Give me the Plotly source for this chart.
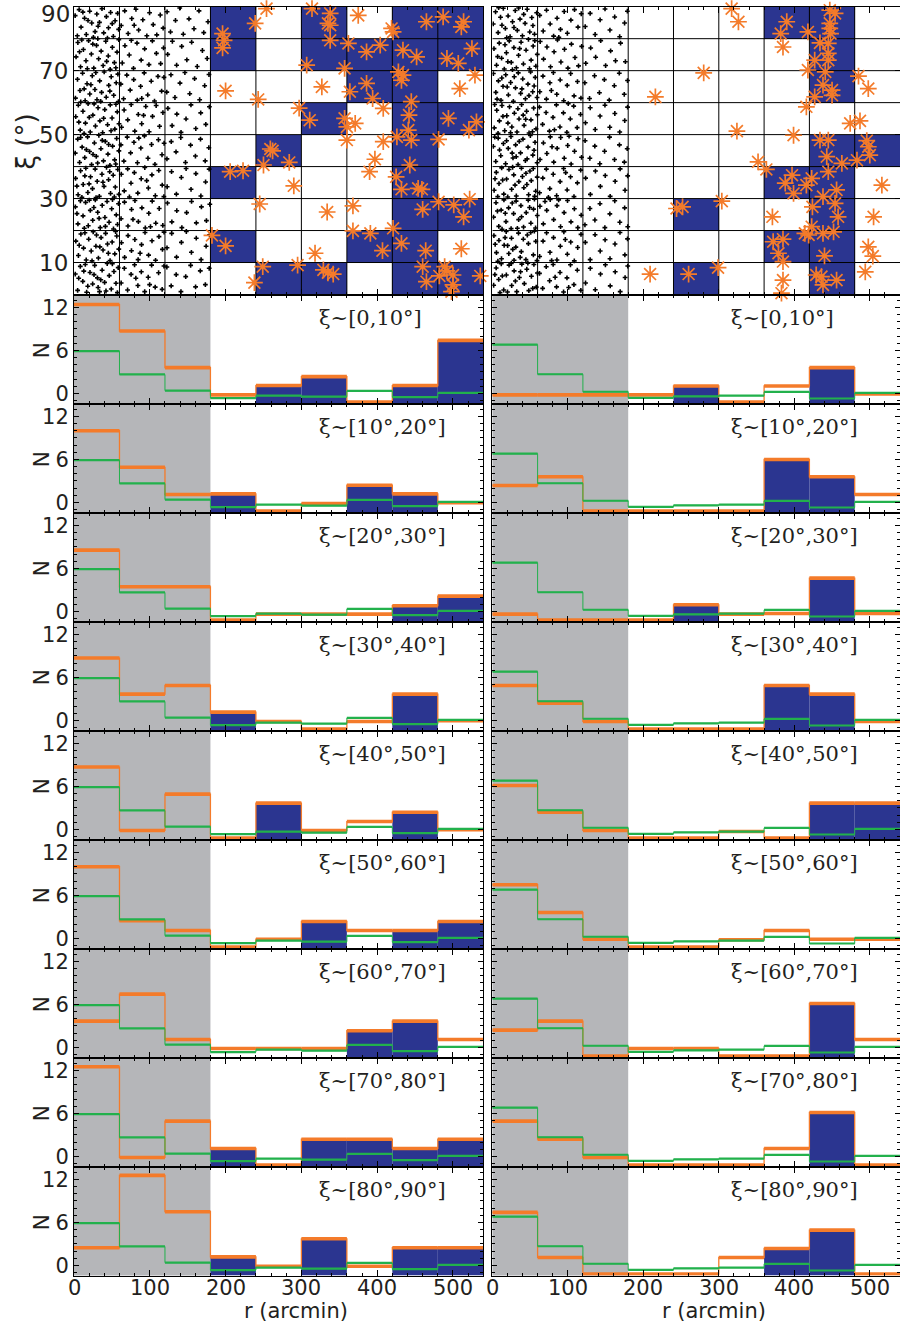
import plotly.graph_objects as go

# ---------------- data ----------------
r_edges = [0, 60, 120, 180, 240, 300, 360, 420, 480, 540]
xi_edges = [0, 10, 20, 30, 40, 50, 60, 70, 80, 90]
grey_limit = 180
panel_labels = ["ξ~[0,10°]", "ξ~[10°,20°]", "ξ~[20°,30°]", "ξ~[30°,40°]", "ξ~[40°,50°]",
                "ξ~[50°,60°]", "ξ~[60°,70°]", "ξ~[70°,80°]", "ξ~[80°,90°]"]
xi_tick_vals = [10, 30, 50, 70, 90]
r_tick_vals = [0, 100, 200, 300, 400, 500]

# histogram values per xi band (rows: 0-10 ... 80-90), per r bin
orange_left = [
    [12.4, 8.7, 3.6, -0.2, 1.1, 2.35, -1.2, 1.1, 7.4],
    [10.0, 4.9, 1.1, 1.2, -1.2, -0.15, 2.4, 1.2, -0.05],
    [8.56, 3.44, 3.44, -1.2, -0.37, -0.37, -0.37, 0.8, 2.14],
    [8.7, 3.67, 4.88, 1.16, -0.14, -1.2, -0.14, 3.67, -0.05],
    [8.7, -0.14, 4.93, -1.2, 3.67, -0.14, 1.1, 2.4, -0.05],
    [10.0, 2.47, 1.12, -1.2, -0.1, 2.37, 1.12, 1.12, 2.37],
    [3.67, 7.44, 1.12, -0.14, -0.14, -0.14, 2.33, 3.67, 1.12],
    [12.5, -0.14, 4.93, 1.12, -1.2, 2.4, 2.4, 1.12, 2.4],
    [2.47, 12.56, 7.5, 1.2, -0.1, 3.72, -0.1, 2.47, 2.47],
]
orange_right = [
    [-0.2, -0.2, -0.2, -0.2, 1.05, -1.2, 1.05, 3.6, -0.07],
    [2.37, 3.58, -1.2, -1.2, -1.2, -1.2, 6.0, 3.58, 1.12],
    [-0.37, -1.2, -1.2, -1.2, 0.93, -0.37, -0.28, 4.65, -0.28],
    [4.88, 2.42, -0.14, -1.2, -1.2, -1.2, 4.88, 3.67, -0.14],
    [6.14, 2.42, -0.14, -1.2, -1.2, -0.28, -1.2, 3.67, 3.67],
    [7.49, 3.63, -0.1, -1.2, -1.2, -0.19, 1.12, -0.1, -0.1],
    [2.42, 3.67, -1.2, -0.14, -0.14, -1.2, -1.2, 6.14, 1.12],
    [4.93, 2.42, -0.14, -1.2, -1.2, -1.2, 1.12, 6.14, -1.2],
    [7.4, 1.12, -1.2, -1.2, -1.2, 1.12, 2.37, 4.93, -1.2],
]
green_left = [5.9, 2.65, 0.4, -0.65, -0.3, -0.45, 0.35, -0.52, 0.07]
green_right = [6.8, 2.68, 0.24, -0.61, -0.4, -0.3, 0.22, -0.7, 0.07]
# indices of r bins flagged (blue) per xi band
blue_left = [[4, 5, 7, 8], [3, 6, 7], [7, 8], [3, 7], [4, 7], [5, 7, 8], [6, 7], [3, 5, 6, 7, 8], [3, 5, 7, 8]]
blue_right = [[4, 7], [6, 7], [4, 7], [6, 7], [7, 8], [], [7], [7], [6, 7]]

stars_left = [
    (196, 81.6), (198, 79.5), (196, 77.1), (239, 84.8), (254, 89.4), (200, 63.7), (243, 61.0), (297, 58.3),
    (259, 45.5), (262, 44.9), (250, 40.5), (284, 41.3), (290, 34.0), (206, 38.4), (223, 38.7), (245, 28.3),
    (182, 18.5), (200, 15.2), (249, 8.7), (295, 9.2), (238, 3.7), (314, 89.4), (338, 87.9), (335, 84.8),
    (338, 84.2), (375, 87.3), (419, 83.2), (421, 82.1), (465, 85.3), (487, 86.8), (514, 85.3), (511, 83.7),
    (338, 79.5), (362, 78.5), (386, 75.9), (404, 78.0), (434, 76.4), (452, 74.3), (492, 73.8), (507, 72.3),
    (525, 76.9), (307, 71.7), (357, 70.7), (428, 69.6), (434, 68.6), (432, 67.0), (386, 66.0), (364, 63.4),
    (394, 61.3), (327, 64.9), (529, 68.6), (509, 64.4), (445, 60.3), (311, 54.5), (357, 55.1), (360, 52.4),
    (371, 53.5), (408, 58.2), (442, 56.1), (441, 51.4), (445, 48.3), (494, 55.1), (531, 54.0), (521, 51.4),
    (426, 49.3), (360, 48.3), (408, 47.8), (481, 48.5), (397, 42.3), (443, 40.5), (390, 38.4), (425, 36.8),
    (432, 32.9), (454, 33.2), (459, 32.9), (334, 25.8), (368, 27.7), (460, 26.6), (481, 29.0), (501, 28.0),
    (522, 29.8), (514, 24.3), (318, 12.9), (368, 19.9), (391, 19.1), (421, 20.7), (407, 13.7), (432, 16.0),
    (464, 13.7), (511, 14.3), (329, 7.7), (335, 6.8), (342, 6.4), (460, 8.7), (465, 4.0), (482, 5.8),
    (489, 8.7), (492, 7.4), (500, 6.1), (500, 3.0), (498, 0.9), (536, 5.8),
]
stars_right = [
    (317, 89.4), (326, 85.3), (390, 85.3), (382, 81.6), (418, 82.1), (447, 88.9), (454, 87.9), (447, 84.8),
    (447, 83.2), (448, 81.6), (434, 78.7), (445, 78.5), (385, 77.4), (445, 75.4), (445, 73.3), (427, 73.3),
    (418, 70.2), (441, 69.6), (280, 69.3), (438, 65.5), (450, 63.9), (450, 62.3), (427, 61.8), (485, 68.3),
    (498, 64.4), (216, 61.8), (416, 58.7), (474, 53.5), (487, 54.3), (324, 51.1), (399, 49.8), (434, 48.3),
    (445, 48.3), (496, 48.1), (498, 46.2), (500, 43.6), (443, 43.1), (463, 41.0), (483, 42.0), (352, 41.5),
    (363, 39.1), (397, 37.3), (388, 34.8), (399, 31.6), (416, 34.2), (423, 36.3), (445, 38.4), (456, 32.7),
    (438, 30.6), (454, 28.5), (516, 34.2), (424, 27.4), (458, 24.3), (244, 26.9), (252, 27.4), (304, 29.2),
    (371, 24.3), (505, 24.3), (423, 21.2), (414, 19.1), (419, 18.6), (438, 19.1), (452, 19.6), (372, 16.5),
    (385, 17.3), (379, 12.9), (385, 10.3), (440, 12.1), (498, 14.9), (504, 12.0), (209, 6.4), (260, 6.4),
    (299, 8.4), (385, 4.5), (383, 0.4), (429, 6.1), (436, 5.6), (438, 3.0), (456, 4.5), (494, 7.1),
]

dots_left = [
    # 80-90
    (1.5, 87.2), (6.8, 89.1), (9.3, 83.6), (13.9, 86.4), (16.2, 81.3), (20.7, 88.6), (23.4, 84.9), (27.8, 82.2),
    (30.1, 87.7), (33.6, 85.1), (36.9, 89.4), (39.2, 81.8), (42.7, 86.9), (45.5, 83.4), (48.3, 88.2), (51.9, 80.7),
    (54.2, 85.6), (57.6, 87.9), (58.9, 82.9), (4.4, 80.9), (11.7, 88.3), (25.6, 80.4), (31.8, 83.9), (44.1, 80.2),
    (50.4, 84.7), (18.5, 85.7),
    (62.3, 84.1), (66.9, 88.7), (71.4, 81.6), (76.2, 86.3), (81.7, 89.2), (85.3, 82.7), (90.8, 85.9), (96.1, 80.9),
    (99.7, 88.1), (104.5, 84.4), (109.2, 81.2), (113.8, 87.4), (117.6, 83.3), (79.4, 84.2),
    (122.8, 88.4), (127.3, 82.1), (133.9, 85.7), (139.5, 89.6), (144.2, 81.4), (151.7, 86.2), (158.3, 83.1),
    (164.9, 88.7), (171.2, 81.9), (176.8, 85.3),
    # 70-80
    (2.7, 74.3), (5.1, 78.8), (8.6, 71.2), (12.4, 76.6), (15.8, 73.1), (19.3, 79.4), (22.9, 75.2), (26.1, 70.8),
    (29.7, 77.9), (32.5, 73.7), (35.8, 76.1), (38.4, 71.6), (41.9, 79.2), (45.2, 74.6), (47.7, 70.4), (50.6, 77.3),
    (53.3, 72.5), (56.8, 75.8), (59.1, 79.7), (10.2, 79.6), (17.6, 70.6), (24.8, 78.3), (43.1, 72.9), (55.2, 70.9),
    (31.4, 80.0), (7.3, 75.9),
    (63.7, 72.4), (67.2, 77.8), (72.9, 74.9), (78.5, 70.7), (83.1, 78.6), (88.6, 73.3), (93.2, 76.8), (98.9, 71.9),
    (103.4, 79.3), (108.7, 75.4), (114.3, 72.2), (118.1, 77.1), (75.6, 79.5),
    (123.6, 75.1), (129.8, 79.2), (135.4, 71.7), (142.1, 77.6), (148.9, 73.4), (155.2, 78.9), (162.6, 71.3),
    (169.4, 76.3), (175.7, 73.8),
    # 60-70
    (1.9, 61.4), (4.6, 67.3), (7.9, 63.8), (11.3, 69.2), (14.7, 60.6), (17.2, 65.9), (20.8, 62.7), (24.1, 68.4),
    (27.6, 64.1), (30.3, 60.9), (33.9, 66.8), (36.4, 63.2), (39.8, 69.6), (42.5, 61.7), (45.9, 65.4), (49.1, 68.1),
    (52.4, 62.3), (55.7, 66.2), (58.6, 60.3), (8.9, 60.2), (22.3, 65.6), (35.2, 60.4), (47.3, 63.6), (57.9, 68.9),
    (13.4, 64.3), (28.8, 69.4),
    (61.8, 65.8), (65.4, 61.2), (69.7, 68.6), (74.1, 63.9), (78.8, 67.2), (83.5, 60.8), (87.9, 65.1), (92.6, 69.3),
    (97.3, 62.4), (101.9, 66.7), (106.2, 60.5), (110.8, 68.2), (115.6, 63.6), (118.7, 67.9), (89.4, 61.3),
    (122.4, 63.3), (127.9, 68.7), (133.2, 61.6), (139.8, 66.1), (146.3, 69.4), (152.7, 62.8), (159.1, 67.5),
    (165.8, 60.9), (172.4, 65.3), (178.1, 68.8),
    # 50-60
    (2.3, 55.6), (5.7, 59.2), (8.2, 51.4), (11.8, 57.3), (15.1, 53.6), (18.6, 59.7), (21.4, 50.8), (24.9, 56.1),
    (28.3, 52.7), (31.7, 58.4), (34.2, 54.3), (37.8, 50.6), (40.6, 57.8), (44.3, 53.1), (47.8, 59.3), (50.2, 55.2),
    (53.9, 51.7), (57.1, 57.1), (59.4, 53.4), (6.4, 53.9), (13.3, 50.3), (26.5, 59.6), (39.1, 55.1), (48.9, 51.2),
    (55.3, 59.5), (20.1, 55.4),
    (62.7, 52.3), (66.1, 57.7), (70.9, 54.6), (75.4, 59.4), (80.2, 51.1), (84.8, 56.3), (89.3, 53.4), (94.7, 58.8),
    (99.1, 50.9), (103.6, 55.7), (108.4, 59.1), (112.9, 52.6), (117.3, 56.9), (91.8, 56.0),
    (123.9, 58.2), (129.4, 52.8), (135.7, 56.4), (141.2, 50.7), (147.8, 54.9), (154.3, 59.3), (160.7, 51.9),
    (167.2, 56.8), (173.9, 53.2), (178.6, 58.7),
    # 40-50
    (1.6, 44.2), (4.9, 48.6), (7.4, 41.3), (10.7, 46.1), (14.2, 42.8), (17.9, 49.3), (20.6, 44.7), (23.2, 40.6),
    (26.9, 47.4), (29.4, 43.2), (32.8, 49.8), (35.5, 45.6), (38.9, 41.8), (41.3, 47.9), (44.8, 43.9), (47.4, 40.4),
    (50.9, 46.4), (53.6, 42.1), (56.3, 48.8), (59.2, 44.9), (8.8, 49.1), (16.3, 45.3), (25.1, 43.8), (37.3, 48.2),
    (45.7, 46.9), (55.1, 40.8), (31.2, 41.1),
    (61.9, 46.8), (65.8, 41.7), (70.2, 49.2), (74.7, 44.3), (79.1, 47.6), (83.7, 41.2), (88.2, 45.8), (92.9, 49.6),
    (97.6, 42.6), (102.3, 46.9), (106.8, 40.7), (111.4, 48.4), (116.1, 43.7), (118.9, 47.3), (85.5, 48.9),
    (122.6, 42.4), (128.3, 47.8), (134.6, 44.6), (140.9, 49.1), (147.1, 41.3), (153.8, 46.7), (160.2, 43.3),
    (166.9, 48.6), (173.1, 41.8), (177.9, 45.9),
    # 30-40
    (2.1, 36.3), (5.4, 31.2), (8.7, 38.7), (12.1, 34.4), (15.6, 39.5), (18.3, 31.9), (21.8, 36.8), (24.4, 33.1),
    (27.9, 39.2), (30.6, 35.4), (33.4, 30.7), (36.9, 37.6), (39.6, 33.8), (42.9, 39.8), (45.6, 35.9), (48.2, 31.6),
    (51.7, 37.3), (54.5, 33.6), (57.8, 39.1), (59.3, 31.3), (3.8, 33.9), (10.4, 30.4), (19.9, 34.6), (29.1, 30.3),
    (38.2, 35.1), (47.1, 38.4), (53.2, 30.5), (14.3, 37.1),
    (62.4, 37.6), (66.3, 32.4), (70.8, 39.3), (75.2, 34.8), (79.6, 38.1), (84.2, 31.7), (88.7, 36.2), (93.4, 39.7),
    (98.1, 33.3), (102.8, 37.4), (107.3, 30.9), (111.9, 38.8), (116.4, 34.2), (118.6, 30.6), (73.1, 30.5), (95.9, 35.6),
    (122.9, 33.7), (128.7, 38.4), (135.1, 31.4), (141.6, 36.6), (147.9, 39.4), (154.4, 32.9), (160.8, 37.8),
    (167.4, 30.8), (173.6, 35.2), (178.3, 39.2),
    # 20-30
    (1.8, 27.4), (5.2, 22.1), (8.4, 29.3), (11.9, 24.6), (15.3, 28.8), (18.8, 21.5), (21.5, 26.3), (24.7, 23.2),
    (28.1, 29.6), (31.3, 25.7), (34.6, 20.9), (37.2, 27.9), (40.8, 24.1), (43.6, 29.1), (46.3, 22.6), (49.7, 26.8),
    (52.1, 20.5), (55.8, 24.9), (58.7, 28.4), (3.9, 25.3), (13.6, 20.7), (26.2, 27.2), (33.1, 23.8), (41.4, 21.3),
    (50.8, 29.7), (57.4, 21.9), (20.2, 29.5),
    (62.1, 23.7), (66.6, 28.9), (71.2, 21.4), (75.9, 26.6), (80.4, 29.4), (84.9, 22.8), (89.6, 27.1), (94.1, 20.8),
    (98.7, 25.4), (103.2, 29.2), (107.9, 22.3), (112.4, 26.9), (117.2, 21.6), (77.8, 23.5), (100.9, 21.2),
    (123.3, 28.6), (129.1, 22.7), (135.6, 26.2), (142.3, 20.9), (148.6, 25.6), (155.1, 29.1), (161.4, 22.4),
    (168.1, 27.4), (174.7, 23.1), (179.2, 28.2),
    # 10-20
    (2.4, 16.7), (5.8, 12.2), (9.1, 18.9), (12.6, 14.5), (16.1, 10.8), (19.4, 17.3), (22.7, 13.6), (25.3, 19.6),
    (28.9, 15.1), (32.2, 11.4), (35.7, 17.8), (38.3, 13.9), (41.7, 19.1), (44.2, 15.8), (47.6, 10.6), (50.3, 16.4),
    (53.8, 12.7), (56.4, 18.3), (59.1, 14.2), (6.9, 15.4), (14.4, 19.3), (23.8, 10.5), (34.1, 14.9), (45.3, 12.9),
    (54.9, 19.7), (29.7, 18.6),
    (62.6, 16.2), (66.8, 11.6), (71.3, 18.4), (75.8, 13.7), (80.3, 17.2), (84.6, 10.9), (89.1, 15.6), (93.7, 19.4),
    (98.4, 12.3), (102.9, 16.8), (107.6, 10.7), (112.1, 18.1), (116.7, 14.1), (118.8, 19.5), (87.2, 12.9),
    (122.7, 14.6), (128.9, 19.1), (135.3, 11.7), (141.7, 16.3), (148.2, 19.7), (154.9, 13.2), (161.3, 17.6),
    (167.7, 10.9), (174.3, 15.1), (178.8, 18.7),
    # 0-10
    (1.7, 6.4), (4.8, 1.3), (8.3, 8.8), (11.6, 4.1), (14.9, 9.4), (18.2, 2.6), (21.1, 6.9), (24.6, 3.3),
    (27.3, 9.1), (30.9, 5.2), (33.7, 0.9), (37.1, 7.6), (40.4, 3.8), (43.8, 9.7), (46.5, 5.9), (49.2, 1.7),
    (52.7, 7.2), (55.4, 3.5), (58.3, 8.4), (6.2, 5.1), (16.7, 0.7), (26.4, 6.2), (35.3, 4.6), (42.2, 1.1),
    (50.6, 9.6), (57.2, 0.6), (12.9, 7.3), (31.8, 2.2),
    (62.2, 3.6), (66.4, 8.2), (70.7, 1.4), (75.3, 6.3), (79.9, 9.3), (84.3, 2.8), (88.8, 7.1), (93.3, 0.9),
    (97.9, 5.4), (102.4, 9.2), (107.1, 2.3), (111.6, 6.8), (116.3, 1.6), (118.7, 8.9), (81.6, 5.1), (99.8, 3.1),
    (122.5, 8.6), (128.2, 2.7), (134.8, 6.2), (141.1, 0.9), (147.4, 5.6), (153.9, 9.1), (160.4, 2.4),
    (166.6, 7.4), (173.3, 3.1), (178.4, 8.2),
]

dots_right = [
    # 80-90
    (1.2, 84.6), (4.3, 88.4), (7.7, 81.9), (10.9, 86.7), (14.6, 89.5), (17.3, 83.2), (20.9, 87.1), (23.6, 80.6),
    (26.8, 85.3), (30.4, 88.8), (33.1, 82.6), (36.7, 86.1), (39.9, 80.9), (43.4, 84.8), (46.2, 89.2), (49.6, 82.1),
    (52.3, 86.6), (55.9, 81.4), (58.8, 88.1), (8.4, 89.7), (19.1, 80.3), (28.7, 83.5), (41.6, 87.6), (53.8, 84.1),
    (12.8, 84.2), (34.9, 89.6),
    (62.8, 87.3), (67.4, 82.4), (71.8, 88.9), (76.6, 84.6), (81.2, 80.8), (85.8, 86.4), (90.3, 82.9), (95.2, 88.5),
    (99.4, 81.7), (104.1, 85.8), (108.9, 89.1), (113.5, 83.6), (117.8, 87.8), (88.1, 80.4),
    (123.1, 83.8), (129.6, 87.9), (136.2, 81.3), (142.8, 85.9), (149.3, 89.3), (155.8, 82.7), (162.1, 86.8),
    (168.7, 80.6), (175.2, 84.9), (178.9, 88.6),
    # 70-80
    (2.2, 76.9), (5.6, 71.7), (9.2, 78.6), (12.3, 73.9), (15.9, 70.5), (18.7, 75.6), (22.4, 79.3), (25.1, 72.6),
    (28.6, 77.2), (31.9, 70.9), (34.8, 74.8), (38.1, 78.9), (41.2, 72.1), (44.7, 76.4), (47.9, 79.8), (51.4, 73.3),
    (54.1, 77.7), (57.7, 71.4), (59.6, 75.1), (7.1, 74.4), (16.8, 78.1), (26.7, 70.3), (36.2, 76.9), (49.3, 70.6),
    (56.3, 79.4), (20.6, 72.8),
    (63.4, 79.1), (67.9, 73.6), (72.4, 77.4), (77.1, 71.2), (81.8, 75.9), (86.3, 79.6), (90.9, 72.7), (95.6, 76.7),
    (100.2, 70.8), (104.8, 78.3), (109.5, 74.1), (114.2, 71.5), (118.4, 77.6),
    (123.8, 72.3), (130.3, 77.1), (136.9, 74.2), (143.6, 79.4), (150.1, 71.6), (156.7, 76.2), (163.2, 73.1),
    (169.9, 78.6), (176.3, 72.8),
    # 60-70
    (1.4, 69.1), (4.7, 63.2), (8.1, 66.8), (11.5, 60.7), (14.2, 65.1), (17.8, 68.7), (21.3, 62.4), (24.3, 66.3),
    (27.9, 60.4), (30.7, 64.6), (34.4, 69.3), (37.6, 62.9), (40.3, 67.4), (43.9, 61.2), (47.2, 65.8), (50.7, 69.6),
    (53.5, 63.4), (56.9, 67.9), (59.3, 61.6), (6.3, 61.1), (19.7, 64.9), (29.1, 68.1), (39.2, 64.3), (48.6, 62.2),
    (12.6, 67.7), (55.4, 65.2),
    (62.9, 63.4), (67.1, 68.3), (71.7, 61.1), (76.3, 66.2), (80.9, 69.4), (85.4, 62.6), (89.9, 67.1), (94.6, 60.6),
    (99.2, 65.4), (103.8, 69.1), (108.3, 62.1), (112.8, 66.6), (117.4, 61.4), (78.2, 63.8),
    (122.6, 66.2), (128.8, 61.3), (135.4, 68.4), (141.9, 63.1), (148.4, 67.2), (154.9, 60.8), (161.6, 65.3),
    (168.2, 69.2), (174.8, 62.6), (179.1, 66.9),
    # 50-60
    (2.6, 52.1), (5.9, 57.6), (9.4, 54.3), (12.8, 59.1), (16.4, 51.2), (19.2, 55.9), (22.8, 58.7), (25.9, 52.4),
    (29.2, 56.7), (32.7, 50.8), (35.4, 54.9), (38.8, 59.4), (42.1, 52.9), (45.4, 57.3), (48.7, 50.5), (51.2, 54.6),
    (54.8, 58.3), (57.9, 51.8), (59.7, 56.2), (7.6, 50.4), (14.1, 55.7), (24.2, 50.6), (33.9, 58.1), (44.2, 54.8),
    (53.2, 50.9), (20.7, 53.6), (40.9, 56.1), (3.1, 59.4),
    (62.4, 58.6), (66.6, 53.2), (71.2, 56.9), (75.7, 51.1), (80.4, 55.4), (84.9, 59.3), (89.6, 52.4), (94.2, 56.8),
    (98.8, 50.7), (103.3, 54.9), (107.8, 58.9), (112.4, 52.2), (116.9, 56.3), (82.3, 51.5), (100.6, 59.7),
    (123.4, 53.7), (129.7, 58.4), (136.3, 51.6), (142.7, 55.8), (149.2, 59.2), (155.6, 52.3), (162.3, 56.6),
    (168.8, 50.8), (175.4, 54.4), (179.2, 58.6),
    # 40-50
    (1.3, 46.3), (4.6, 41.6), (7.8, 48.9), (11.2, 43.4), (14.7, 47.2), (17.6, 40.9), (21.1, 45.7), (24.7, 49.4),
    (27.4, 42.7), (30.9, 46.8), (34.1, 40.6), (37.4, 44.3), (40.6, 48.6), (43.8, 41.9), (47.3, 46.1), (50.4, 49.7),
    (53.7, 43.6), (56.6, 47.6), (59.4, 41.2), (9.6, 45.2), (18.9, 48.1), (26.3, 44.2), (35.7, 47.9), (46.1, 42.4),
    (55.3, 45.1), (3.2, 49.2), (31.6, 43.1),
    (63.2, 42.2), (67.7, 47.4), (72.3, 44.1), (76.8, 49.3), (81.4, 41.4), (85.9, 45.7), (90.6, 49.1), (95.3, 42.6),
    (99.9, 46.6), (104.4, 40.8), (108.9, 44.8), (113.6, 48.7), (118.2, 42.9), (79.1, 46.2), (101.7, 49.5),
    (122.9, 48.1), (129.2, 42.6), (135.8, 46.4), (142.4, 40.9), (148.7, 44.8), (155.3, 49.2), (161.9, 42.2),
    (168.4, 46.8), (174.9, 41.4), (178.7, 45.6),
    # 30-40
    (2.4, 32.6), (5.3, 38.2), (8.9, 34.7), (12.4, 39.6), (15.2, 31.4), (18.9, 36.1), (22.1, 39.1), (25.6, 32.9),
    (28.4, 37.4), (31.8, 30.8), (35.2, 35.3), (38.6, 39.5), (41.8, 33.4), (44.6, 37.9), (48.1, 31.2), (51.6, 35.6),
    (54.2, 39.4), (57.5, 32.3), (59.5, 36.7), (7.2, 30.6), (13.7, 35.8), (20.4, 30.5), (30.1, 34.2), (39.9, 36.9),
    (49.9, 38.6), (56.1, 30.7), (26.9, 39.8), (45.8, 34.4), (3.6, 36.2),
    (62.6, 31.8), (66.9, 36.4), (71.6, 39.2), (76.2, 33.1), (80.7, 37.6), (85.2, 30.9), (89.8, 35.3), (94.5, 39.4),
    (99.1, 32.7), (103.6, 36.8), (108.2, 30.6), (112.7, 34.9), (117.1, 38.9), (74.3, 30.4), (97.2, 38.1),
    (123.6, 36.4), (129.9, 31.3), (136.6, 38.6), (143.1, 33.8), (149.6, 37.2), (156.1, 30.7), (162.7, 35.4),
    (169.3, 39.3), (175.8, 32.6), (179.3, 37.1),
    # 20-30
    (1.6, 24.2), (4.9, 28.7), (8.6, 21.3), (11.7, 26.4), (15.4, 29.6), (18.1, 22.8), (21.6, 27.1), (24.9, 20.6),
    (28.2, 25.3), (31.5, 29.2), (34.9, 23.4), (37.9, 27.8), (41.4, 21.1), (44.9, 25.6), (47.6, 29.5), (51.1, 22.3),
    (54.6, 26.7), (57.3, 20.8), (59.6, 24.7), (6.8, 26.1), (17.2, 25.4), (26.4, 28.6), (38.7, 24.3), (49.4, 27.2),
    (55.8, 29.8), (12.9, 20.4), (33.2, 20.7),
    (63.1, 27.6), (67.6, 22.1), (72.1, 26.3), (76.7, 29.7), (81.3, 23.4), (85.7, 27.8), (90.4, 21.2), (95.1, 25.6),
    (99.6, 29.4), (104.2, 22.7), (108.7, 26.8), (113.3, 20.9), (117.7, 24.8), (87.9, 29.6), (69.8, 29.1),
    (122.7, 21.8), (129.3, 26.9), (135.9, 23.3), (142.6, 28.4), (149.1, 20.9), (155.7, 25.2), (162.2, 29.3),
    (168.9, 22.6), (175.3, 27.1), (179.4, 21.2),
    # 10-20
    (2.1, 18.4), (5.5, 13.1), (8.8, 16.9), (12.2, 11.2), (15.7, 15.4), (18.4, 19.7), (21.9, 12.8), (25.4, 17.6),
    (28.8, 10.7), (31.2, 14.8), (34.7, 19.2), (38.4, 13.4), (41.1, 17.3), (44.5, 10.9), (47.8, 15.9), (50.9, 19.4),
    (54.4, 12.4), (57.6, 16.6), (59.2, 10.6), (7.4, 10.4), (16.9, 17.8), (27.1, 14.1), (36.9, 11.6), (46.4, 18.6),
    (55.7, 19.8), (20.3, 15.3), (3.8, 15.7),
    (62.7, 11.9), (67.2, 16.7), (71.9, 19.3), (76.4, 13.2), (81.1, 17.8), (85.6, 10.8), (90.1, 15.1), (94.8, 19.6),
    (99.4, 12.6), (103.9, 16.4), (108.6, 10.5), (113.1, 14.7), (117.5, 18.8), (78.6, 10.6), (96.7, 17.2),
    (123.2, 16.3), (129.6, 10.9), (136.1, 18.7), (142.9, 13.6), (149.4, 17.1), (155.9, 11.2), (162.5, 15.8),
    (169.1, 19.4), (175.6, 12.4), (179.1, 17.4),
    # 0-10
    (1.8, 2.9), (5.1, 8.3), (8.5, 4.7), (11.9, 9.6), (15.1, 1.4), (18.6, 6.1), (22.2, 9.2), (25.7, 2.8),
    (28.9, 7.4), (32.4, 0.9), (35.9, 5.3), (39.1, 9.5), (42.4, 3.4), (45.7, 7.9), (48.4, 1.2), (51.8, 5.7),
    (55.1, 9.4), (58.2, 2.3), (59.7, 6.7), (3.4, 6.2), (13.3, 5.8), (20.1, 0.8), (30.6, 4.2), (37.4, 7.1),
    (47.1, 9.8), (53.6, 1.9), (25.2, 9.7), (10.2, 0.6),
    (62.5, 6.6), (66.7, 1.9), (71.4, 8.7), (75.9, 4.3), (80.6, 9.4), (85.1, 2.4), (89.7, 6.9), (94.4, 0.8),
    (98.9, 5.2), (103.5, 9.3), (108.1, 3.1), (112.6, 7.6), (117.3, 1.3), (83.2, 5.4), (101.2, 2.2),
    (123.5, 3.6), (129.8, 8.2), (136.4, 1.5), (143.3, 6.4), (149.8, 9.3), (156.2, 2.7), (162.8, 7.1),
    (169.4, 0.9), (175.9, 5.3), (179.4, 8.9),
]

# ---------------- style / layout ----------------
W, H = 900, 1325
BLUE = '#2B3590'
ORANGE = '#F47B2A'
GREEN = '#22B14C'
GREY = '#B5B6B9'
TXT = '#231F20'
col_px = {'L': (74.0, 483.3), 'R': (492.3, 900.0)}
top_px = (6.7, 294.5)
hist_top, hist_h = 294.5, 109.0
N_RANGE = [-1.4, 13.8]
R_RANGE = [r_edges[0], r_edges[-1]]
XI_RANGE = [xi_edges[0], xi_edges[-1]]

def xd(side):
    a, b = col_px[side]
    return [a / W, b / W]

def yd(top, bot):
    return [1 - bot / H, 1 - top / H]

def aid(n):
    return ('x' if n == 1 else f'x{n}'), ('y' if n == 1 else f'y{n}')

def lkey(n, ax):
    return f'{ax}axis' if n == 1 else f'{ax}axis{n}'

fig = go.Figure()
layout = dict(width=W, height=H, margin=dict(l=0, r=0, t=0, b=0, autoexpand=False),
              paper_bgcolor='white', plot_bgcolor='white', showlegend=False,
              barmode='overlay', font=dict(family='DejaVu Sans', color=TXT))
annotations = []
shapes = []

r_centers = [(r_edges[j] + r_edges[j + 1]) / 2 for j in range(len(r_edges) - 1)]
xi_centers = [(xi_edges[k] + xi_edges[k + 1]) / 2 for k in range(len(xi_edges) - 1)]

sides = [('L', 1, 3, orange_left, green_left, blue_left, stars_left, dots_left),
         ('R', 2, 12, orange_right, green_right, blue_right, stars_right, dots_right)]

for side, sc_id, h0, orange, green, blue, stars, dots in sides:
    xa, ya = aid(sc_id)
    # --- top scatter panel ---
    z = [[1 if j in blue[k] else None for j in range(len(r_centers))] for k in range(len(xi_centers))]
    fig.add_trace(go.Heatmap(x=r_centers, y=xi_centers, z=z, zmin=0, zmax=1,
                             colorscale=[[0, BLUE], [1, BLUE]], showscale=False,
                             hoverinfo='skip', xaxis=xa, yaxis=ya))
    gx, gy = [], []
    for e in r_edges[1:-1]:
        gx += [e, e, None]
        gy += [XI_RANGE[0], XI_RANGE[1], None]
    for e in xi_edges[1:-1]:
        gx += [R_RANGE[0], R_RANGE[1], None]
        gy += [e, e, None]
    fig.add_trace(go.Scatter(x=gx, y=gy, mode='lines', line=dict(color='black', width=1),
                             hoverinfo='skip', xaxis=xa, yaxis=ya))
    fig.add_trace(go.Scatter(x=[d[0] for d in dots], y=[d[1] for d in dots], mode='markers',
                             marker=dict(symbol='cross', size=4, color='black'),
                             xaxis=xa, yaxis=ya))
    fig.add_trace(go.Scatter(x=[s[0] for s in stars], y=[s[1] for s in stars], mode='markers',
                             marker=dict(symbol='asterisk-open', size=14, color=ORANGE,
                                         line=dict(color=ORANGE, width=1.7)),
                             cliponaxis=False, xaxis=xa, yaxis=ya))
    layout[lkey(sc_id, 'x')] = dict(domain=xd(side), anchor=ya, range=R_RANGE, showgrid=False,
                                   zeroline=False, showline=True, linecolor='black', linewidth=1,
                                   mirror='allticks', ticks='inside', ticklen=6, tickcolor='black',
                                   tick0=0, dtick=100, showticklabels=False, automargin=False,
                                   minor=dict(ticks='inside', ticklen=3, dtick=20, tickcolor='black'))
    layout[lkey(sc_id, 'y')] = dict(domain=yd(*top_px), anchor=xa, range=XI_RANGE, showgrid=False,
                                   zeroline=False, showline=True, linecolor='black', linewidth=1,
                                   mirror='allticks', ticks='inside', ticklen=5, tickcolor='black',
                                   tickmode='array', tickvals=xi_tick_vals,
                                   ticktext=[str(v) for v in xi_tick_vals[:-1]] + [''],
                                   showticklabels=(side == 'L'), automargin=False,
                                   tickfont=dict(size=23, color=TXT))
    if side == 'L':
        annotations.append(dict(text=str(xi_tick_vals[-1]), xref='paper', yref='paper',
                                x=72 / W, y=1 - 14 / H, xanchor='right', yanchor='middle',
                                showarrow=False, font=dict(size=23, color=TXT)))

    # --- histogram panels ---
    for k in range(len(orange)):
        n = h0 + k
        xa, ya = aid(n)
        top = hist_top + k * hist_h
        bot = top + hist_h
        shapes.append(dict(type='rect', xref=xa, yref=f'{ya} domain', x0=R_RANGE[0], x1=grey_limit,
                           y0=0, y1=1, fillcolor=GREY, line=dict(width=0), layer='below'))
        bx = [r_centers[j] for j in blue[k]]
        by = [orange[k][j] - N_RANGE[0] for j in blue[k]]
        if bx:
            fig.add_trace(go.Bar(x=bx, y=by, base=N_RANGE[0], width=r_edges[1] - r_edges[0],
                                 marker=dict(color=BLUE, line=dict(width=0)),
                                 xaxis=xa, yaxis=ya))
        for vals, col, wv, wh in ((orange[k], ORANGE, 1.3, 3.6), (green, GREEN, 1.0, 2.2)):
            fig.add_trace(go.Scatter(x=r_edges, y=list(vals) + [vals[-1]], mode='lines',
                                     line=dict(color=col, width=wv, shape='hv'),
                                     hoverinfo='skip', xaxis=xa, yaxis=ya))
            hx, hy = [], []
            for j, v in enumerate(vals):
                hx += [r_edges[j], r_edges[j + 1], None]
                hy += [v, v, None]
            fig.add_trace(go.Scatter(x=hx, y=hy, mode='lines', line=dict(color=col, width=wh),
                                     hoverinfo='skip', xaxis=xa, yaxis=ya))
        last = (k == len(orange) - 1)
        layout[lkey(n, 'x')] = dict(domain=xd(side), anchor=ya, range=R_RANGE, showgrid=False,
                                   zeroline=False, showline=True, linecolor='black', linewidth=1,
                                   mirror='allticks', ticks='inside', ticklen=6, tickcolor='black',
                                   tick0=0, dtick=100, showticklabels=False, automargin=False,
                                   minor=dict(ticks='inside', ticklen=3, dtick=20, tickcolor='black'))
        layout[lkey(n, 'y')] = dict(domain=yd(top, bot), anchor=xa, range=N_RANGE, showgrid=False,
                                   zeroline=False, showline=True, linecolor='black', linewidth=1,
                                   mirror='allticks', ticks='inside', ticklen=5, tickcolor='black',
                                   tick0=0, dtick=6, showticklabels=(side == 'L'), automargin=False,
                                   tickfont=dict(size=21, color=TXT),
                                   minor=dict(ticks='inside', ticklen=3, dtick=1, tickcolor='black'))
        annotations.append(dict(text=panel_labels[k], xref=xa, yref=ya,
                                x=320 if side == 'L' else 314, y=10.5,
                                xanchor='left', yanchor='middle', showarrow=False,
                                font=dict(family='DejaVu Serif', size=21, color=TXT)))
        if side == 'L':
            annotations.append(dict(text='N', xref='paper', yref='paper', x=41 / W,
                                    y=1 - (top + 56) / H, textangle=-90, xanchor='center',
                                    yanchor='middle', showarrow=False,
                                    font=dict(size=22, color=TXT)))
        if last:
            # bottom r tick labels, placed just under the last panel
            for rv in r_tick_vals:
                annotations.append(dict(text=str(rv), xref=xa, yref='paper', x=rv,
                                        y=1 - 1288 / H, xanchor='center', yanchor='middle',
                                        showarrow=False, font=dict(size=21, color=TXT)))

annotations.append(dict(text='ξ (°)', xref='paper', yref='paper', x=25 / W, y=1 - 141.5 / H,
                        textangle=-90, xanchor='center', yanchor='middle', showarrow=False,
                        font=dict(size=26, color=TXT)))
for xc in (296, 714):
    annotations.append(dict(text='r (arcmin)', xref='paper', yref='paper', x=xc / W,
                            y=1 - 1311 / H, xanchor='center', yanchor='middle', showarrow=False,
                            font=dict(size=21, color=TXT)))

layout['annotations'] = annotations
layout['shapes'] = shapes
fig.update_layout(**layout)
fig.write_html("out.html")
